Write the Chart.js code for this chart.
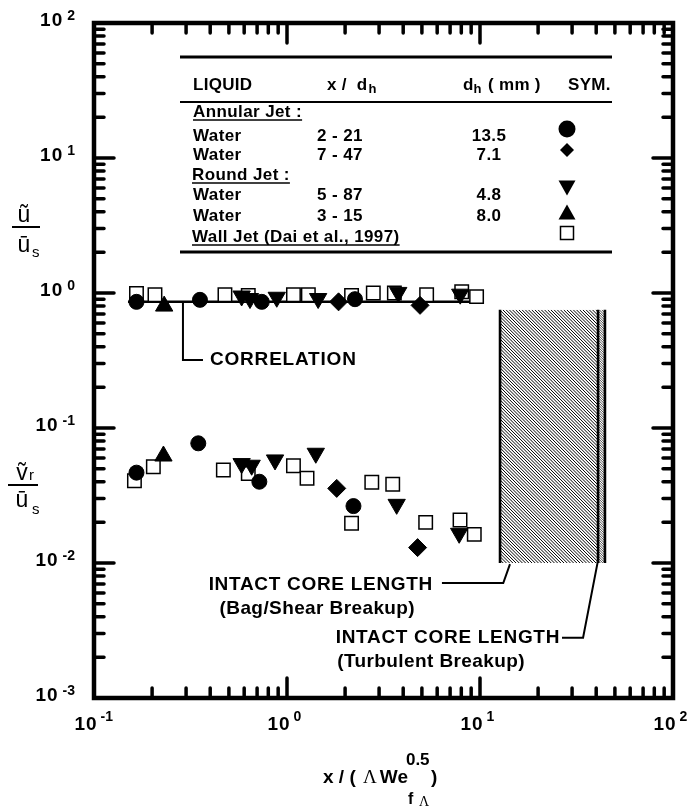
<!DOCTYPE html>
<html>
<head>
<meta charset="utf-8">
<script src="https://cdn.jsdelivr.net/npm/chart.js@4.4.1/dist/chart.umd.min.js"></script>
<style>
  html, body { margin: 0; padding: 0; background: #fff; }
  canvas { display: block; }
</style>
</head>
<body>
<canvas id="chart" width="696" height="807"></canvas>
<script>
// ---- data: [x / (Lambda We^0.5), velocity ratio] ----

// Annular jet, water, d_h = 13.5 mm (circles)
const circleUpper = [[0.166, 0.86], [0.354, 0.89], [0.74, 0.86], [2.25, 0.90]];
const circleLower = [[0.166, 0.0467], [0.347, 0.077], [0.719, 0.040], [2.21, 0.0264]];

// Annular jet, water, d_h = 7.1 mm (diamonds)
const diamondUpper = [[1.85, 0.86], [4.89, 0.81]];
const diamondLower = [[1.81, 0.0357], [4.75, 0.0130]];

// Round jet, water, d_h = 4.8 mm (down triangles)
const triDownUpper = [[0.582, 0.95], [0.643, 0.91], [0.885, 0.93], [1.45, 0.91], [3.77, 1.01], [7.9, 0.98]];
const triDownLower = [[0.582, 0.0545], [0.656, 0.053], [0.867, 0.058], [1.41, 0.065], [3.70, 0.0272], [7.8, 0.0166]];

// Round jet, water, d_h = 8.0 mm (up triangles)
const triUpUpper = [[0.231, 0.80]];
const triUpLower = [[0.229, 0.062]];

// Wall jet, Dai et al. 1997 (open squares)
const squareUpper = [[0.166, 0.99], [0.207, 0.97], [0.477, 0.97], [0.63, 0.96], [1.08, 0.97], [1.29, 0.97],
  [2.16, 0.96], [2.80, 1.0], [3.6, 1.0], [5.29, 0.97], [8.04, 1.02], [9.6, 0.94]];
const squareLower = [[0.162, 0.0407], [0.203, 0.0517], [0.468, 0.0489], [0.63, 0.046], [1.08, 0.0526], [1.27, 0.0424],
  [2.16, 0.0197], [2.75, 0.0396], [3.53, 0.0383], [5.23, 0.0200], [7.88, 0.0208], [9.34, 0.0163]];

// correlation line
const corrX = [0.15, 10];
const corrY = [0.86, 0.86];

// intact core length bands (x ranges) and their height
const bagShearRange = [12.7, 40.9];
const turbulentRange = [40.9, 44.4];
const bandY = [0.01, 0.75];

// annotation leaders (data coordinates)
const corrLeader = [[0.289, 0.86], [0.289, 0.319], [0.367, 0.319]];
const bagLeader = [[6.35, 0.00711], [13.2, 0.00711], [14.3, 0.0098]];
const turbLeader = [[26.6, 0.00280], [34.2, 0.00280], [40.9, 0.0105]];

// axis ticks
const xTickValues = [0.1, 1, 10, 100];
const xTickExps = ['-1', '0', '1', '2'];
const yTickValues = [0.001, 0.01, 0.1, 1, 10, 100];
const yTickExps = ['-3', '-2', '-1', '0', '1', '2'];

// legend table
const legendLiquid = ['Water', 'Water', 'Water', 'Water'];
const legendXd = ['2 - 21', '7 - 47', '5 - 87', '3 - 15'];
const legendDh = ['13.5', '7.1', '4.8', '8.0'];
const legendSym = ['circle', 'diamond', 'down', 'up', 'square'];

const FONT = '"Liberation Sans", Arial, Helvetica, sans-serif';
const SERIF = '"Liberation Serif", "DejaVu Serif", serif';

function pts(arr) {
  return arr.map(([x, y]) => ({ x, y }));
}

function txt(ctx, str, x, y, font, align = 'left', spacing = '0px') {
  ctx.font = font;
  ctx.letterSpacing = spacing;
  ctx.textAlign = align;
  ctx.textBaseline = 'middle';
  ctx.fillText(str, x, y);
  const w = ctx.measureText(str).width;
  ctx.letterSpacing = '0px';
  return w;
}

function hatch(ctx, x0, y0, x1, y1, gap, lw) {
  ctx.save();
  ctx.beginPath();
  ctx.rect(x0, y0, x1 - x0, y1 - y0);
  ctx.clip();
  ctx.strokeStyle = '#000';
  ctx.lineWidth = lw;
  const h = y1 - y0;
  ctx.beginPath();
  for (let s = x0 - h; s < x1; s += gap) {
    ctx.moveTo(s, y0);
    ctx.lineTo(s + h, y1);
  }
  ctx.stroke();
  ctx.restore();
}

function polyline(ctx, chart, list, lw) {
  const xs = chart.scales.x, ys = chart.scales.y;
  ctx.beginPath();
  list.forEach(([x, y], i) => {
    const X = xs.getPixelForValue(x), Y = ys.getPixelForValue(y);
    if (i === 0) ctx.moveTo(X, Y); else ctx.lineTo(X, Y);
  });
  ctx.lineWidth = lw;
  ctx.strokeStyle = '#000';
  ctx.stroke();
}

function drawSym(ctx, kind, x, y) {
  ctx.fillStyle = '#000';
  ctx.strokeStyle = '#000';
  ctx.beginPath();
  if (kind === 'circle') {
    ctx.arc(x, y, 8.5, 0, Math.PI * 2);
  } else if (kind === 'diamond') {
    ctx.moveTo(x, y - 7); ctx.lineTo(x + 7, y); ctx.lineTo(x, y + 7); ctx.lineTo(x - 7, y);
    ctx.closePath();
  } else if (kind === 'down') {
    ctx.moveTo(x - 8.5, y - 7.5); ctx.lineTo(x + 8.5, y - 7.5); ctx.lineTo(x, y + 7.5);
    ctx.closePath();
  } else if (kind === 'up') {
    ctx.moveTo(x - 8.5, y + 7.5); ctx.lineTo(x + 8.5, y + 7.5); ctx.lineTo(x, y - 7.5);
    ctx.closePath();
  } else {
    ctx.rect(x - 6.5, y - 6.5, 13, 13);
    ctx.lineWidth = 1.5;
    ctx.stroke();
    return;
  }
  ctx.fill();
}

const figurePlugin = {
  id: 'figure',
  beforeDatasetsDraw(chart) {
    const ctx = chart.ctx;
    const xs = chart.scales.x, ys = chart.scales.y;

    // hatched intact core length bands
    const top = ys.getPixelForValue(bandY[1]);
    const bot = ys.getPixelForValue(bandY[0]);
    const b0 = xs.getPixelForValue(bagShearRange[0]);
    const b1 = xs.getPixelForValue(bagShearRange[1]);
    const t1 = xs.getPixelForValue(turbulentRange[1]);
    hatch(ctx, b0, top, b1, bot, 3.2, 1);
    hatch(ctx, b1, top, t1, bot, 2.4, 0.7);
    ctx.save();
    ctx.strokeStyle = '#000';
    ctx.lineWidth = 2.6;
    ctx.beginPath();
    [b0, b1, t1].forEach(X => { ctx.moveTo(X, top); ctx.lineTo(X, bot); });
    ctx.stroke();

    // leaders
    polyline(ctx, chart, corrLeader, 2);
    polyline(ctx, chart, bagLeader, 2);
    polyline(ctx, chart, turbLeader, 2);
    ctx.restore();
  },
  afterDraw(chart) {
    const ctx = chart.ctx;
    const xs = chart.scales.x, ys = chart.scales.y;
    const a = chart.chartArea;
    ctx.save();
    ctx.fillStyle = '#000';
    ctx.strokeStyle = '#000';

    // annotation text
    const bold19 = 'bold 19px ' + FONT;
    txt(ctx, 'CORRELATION', xs.getPixelForValue(0.399), ys.getPixelForValue(0.319), bold19, 'left', '0.8px');
    txt(ctx, 'INTACT CORE LENGTH', xs.getPixelForValue(5.71), ys.getPixelForValue(0.00687), bold19, 'right', '0.7px');
    txt(ctx, '(Bag/Shear Breakup)', xs.getPixelForValue(4.61), ys.getPixelForValue(0.00456), bold19, 'right', '0.4px');
    txt(ctx, 'INTACT CORE LENGTH', xs.getPixelForValue(26.0), ys.getPixelForValue(0.00278), bold19, 'right', '0.7px');
    txt(ctx, '(Turbulent Breakup)', xs.getPixelForValue(17.1), ys.getPixelForValue(0.00185), bold19, 'right', '0.4px');

    // legend table
    const lf = 'bold 17px ' + FONT;
    const sub = 'bold 13px ' + FONT;
    ctx.lineCap = 'butt';
    ctx.lineWidth = 3;
    ctx.beginPath();
    ctx.moveTo(180, 57); ctx.lineTo(612, 57);
    ctx.moveTo(180, 252); ctx.lineTo(612, 252);
    ctx.stroke();
    ctx.lineWidth = 1.8;
    ctx.beginPath();
    ctx.moveTo(180, 102); ctx.lineTo(612, 102);
    ctx.stroke();

    txt(ctx, 'LIQUID', 193, 85, lf, 'left', '0.3px');
    let w = txt(ctx, 'x /  d', 327, 85, lf, 'left', '0.3px');
    txt(ctx, 'h', 327 + w + 1, 89, sub);
    w = txt(ctx, 'd', 463, 85, lf);
    txt(ctx, 'h', 463 + w, 89, sub);
    txt(ctx, '( mm )', 488, 85, lf, 'left', '0.3px');
    txt(ctx, 'SYM.', 568, 85, lf, 'left', '0.3px');

    const underline = (str, x, y) => {
      const ww = txt(ctx, str, x, y, lf, 'left', '0.4px');
      ctx.lineWidth = 1.5;
      ctx.beginPath();
      ctx.moveTo(x, y + 8); ctx.lineTo(x + ww, y + 8);
      ctx.stroke();
    };
    underline('Annular Jet :', 193, 112);
    underline('Round Jet :', 192, 175);
    underline('Wall Jet (Dai et al., 1997)', 192, 237);

    const rowY = [136, 155, 195, 216];
    rowY.forEach((y, i) => {
      txt(ctx, legendLiquid[i], 193, y, lf, 'left', '0.4px');
      txt(ctx, legendXd[i], 317, y, lf, 'left', '0.4px');
      txt(ctx, legendDh[i], 489, y, lf, 'center', '0.4px');
    });
    const symY = [129, 150, 188, 212, 233];
    symY.forEach((y, i) => drawSym(ctx, legendSym[i], 567, y));

    // frame
    ctx.strokeStyle = '#000';
    ctx.lineWidth = 4.5;
    ctx.lineJoin = 'miter';
    ctx.strokeRect(a.left, a.top, a.right - a.left, a.bottom - a.top);

    // inward ticks on all four sides
    ctx.lineCap = 'round';
    ctx.lineWidth = 3.5;
    ctx.beginPath();
    for (let d = 0; d < xTickValues.length; d++) {
      const v = xTickValues[d];
      const list = [];
      if (d > 0 && d < xTickValues.length - 1) list.push([v, 20]);
      if (d < xTickValues.length - 1) for (let m = 2; m <= 9; m++) list.push([v * m, 10]);
      list.forEach(([val, len]) => {
        const X = xs.getPixelForValue(val);
        ctx.moveTo(X, a.bottom); ctx.lineTo(X, a.bottom - len);
        ctx.moveTo(X, a.top); ctx.lineTo(X, a.top + len);
      });
    }
    for (let d = 0; d < yTickValues.length; d++) {
      const v = yTickValues[d];
      const list = [];
      if (d > 0 && d < yTickValues.length - 1) list.push([v, 20]);
      if (d < yTickValues.length - 1) for (let m = 2; m <= 9; m++) list.push([v * m, 10]);
      list.forEach(([val, len]) => {
        const Y = ys.getPixelForValue(val);
        ctx.moveTo(a.left, Y); ctx.lineTo(a.left + len, Y);
        ctx.moveTo(a.right, Y); ctx.lineTo(a.right - len, Y);
      });
    }
    ctx.stroke();

    // tick labels 10^n
    const base = 'bold 19px ' + FONT;
    const expo = 'bold 14px ' + FONT;
    xTickValues.forEach((v, i) => {
      const X = xs.getPixelForValue(v);
      const bw = txt(ctx, '10', X - 8, 725, base, 'center', '1px');
      txt(ctx, xTickExps[i], X - 8 + bw / 2 + 3, 717, expo);
    });
    yTickValues.forEach((v, i) => {
      const Y = ys.getPixelForValue(v);
      ctx.font = expo;
      const ew = ctx.measureText(yTickExps[i]).width;
      const ex = 75 - ew;
      txt(ctx, yTickExps[i], ex, Y - 7, expo);
      txt(ctx, '10', ex - 4, Y - 2, base, 'right', '1px');
    });

    // y-axis labels (fractions)
    const uf = '23px ' + FONT + ', "DejaVu Sans"';
    const sf = '15px ' + FONT;
    ctx.textBaseline = 'alphabetic';
    ctx.textAlign = 'center';
    ctx.font = uf;
    ctx.fillText('ũ', 24, 222);
    ctx.fillText('ū', 24, 252);
    ctx.textAlign = 'left';
    ctx.font = sf;
    ctx.fillText('s', 32, 257);
    ctx.lineWidth = 2;
    ctx.lineCap = 'butt';
    ctx.beginPath();
    ctx.moveTo(12, 227); ctx.lineTo(40, 227);
    ctx.stroke();

    ctx.textAlign = 'center';
    ctx.font = uf;
    ctx.fillText('ṽ', 22, 480);
    ctx.fillText('ū', 22, 507);
    ctx.textAlign = 'left';
    ctx.font = sf;
    ctx.fillText('r', 29, 480);
    ctx.fillText('s', 32, 514);
    ctx.beginPath();
    ctx.moveTo(8, 485); ctx.lineTo(38, 485);
    ctx.stroke();

    // x-axis title: x / (Λ We^0.5 _fΛ)
    let tx = 323;
    ctx.textBaseline = 'middle';
    ctx.font = 'bold 19px ' + FONT;
    ctx.fillText('x / ( ', tx, 778);
    tx += ctx.measureText('x / ( ').width + 2;
    ctx.font = '19px ' + SERIF;
    ctx.fillText('Λ', tx, 778);
    tx += ctx.measureText('Λ').width + 3;
    ctx.font = 'bold 19px ' + FONT;
    ctx.fillText('We', tx, 778);
    tx += ctx.measureText('We').width;
    ctx.font = 'bold 17px ' + FONT;
    ctx.fillText('0.5', tx - 2, 760);
    ctx.font = 'bold 16px ' + FONT;
    ctx.fillText('f', tx, 800);
    ctx.font = '14px ' + SERIF;
    ctx.fillText('Λ', tx + 11, 802);
    ctx.font = 'bold 19px ' + FONT;
    ctx.fillText(')', tx + 23, 778);

    ctx.restore();
  }
};

const filled = { backgroundColor: '#000', borderColor: '#000', borderWidth: 1 };

new Chart(document.getElementById('chart'), {
  type: 'scatter',
  data: {
    datasets: [
      { label: 'Annular 13.5', data: pts(circleUpper.concat(circleLower)), pointStyle: 'circle', pointRadius: 7.5, ...filled, order: 0 },
      { label: 'Annular 7.1', data: pts(diamondUpper.concat(diamondLower)), pointStyle: 'rectRot', pointRadius: 9, ...filled, order: 0 },
      { label: 'Round 4.8', data: pts(triDownUpper.concat(triDownLower)), pointStyle: 'triangle', pointRotation: 180, pointRadius: 10, ...filled, order: 0 },
      { label: 'Round 8.0', data: pts(triUpUpper.concat(triUpLower)), pointStyle: 'triangle', pointRadius: 10, ...filled, order: 0 },
      { label: 'Wall jet', data: pts(squareUpper.concat(squareLower)), pointStyle: 'rect', pointRadius: 9.5,
        backgroundColor: '#fff', borderColor: '#000', borderWidth: 1.5, order: 5 },
      { type: 'line', label: 'Correlation', data: corrX.map((x, i) => ({ x, y: corrY[i] })),
        showLine: true, pointRadius: 0, borderColor: '#000', borderWidth: 2.5, fill: false, order: 10 }
    ]
  },
  options: {
    responsive: false,
    animation: false,
    devicePixelRatio: 1,
    layout: { padding: { left: 94, right: 23, top: 23, bottom: 109 } },
    plugins: { legend: { display: false }, tooltip: { enabled: false } },
    elements: { point: { hoverRadius: 7.5 } },
    scales: {
      x: { type: 'logarithmic', min: 0.1, max: 100, display: false },
      y: { type: 'logarithmic', min: 0.001, max: 100, display: false }
    }
  },
  plugins: [figurePlugin]
});
</script>
</body>
</html>
